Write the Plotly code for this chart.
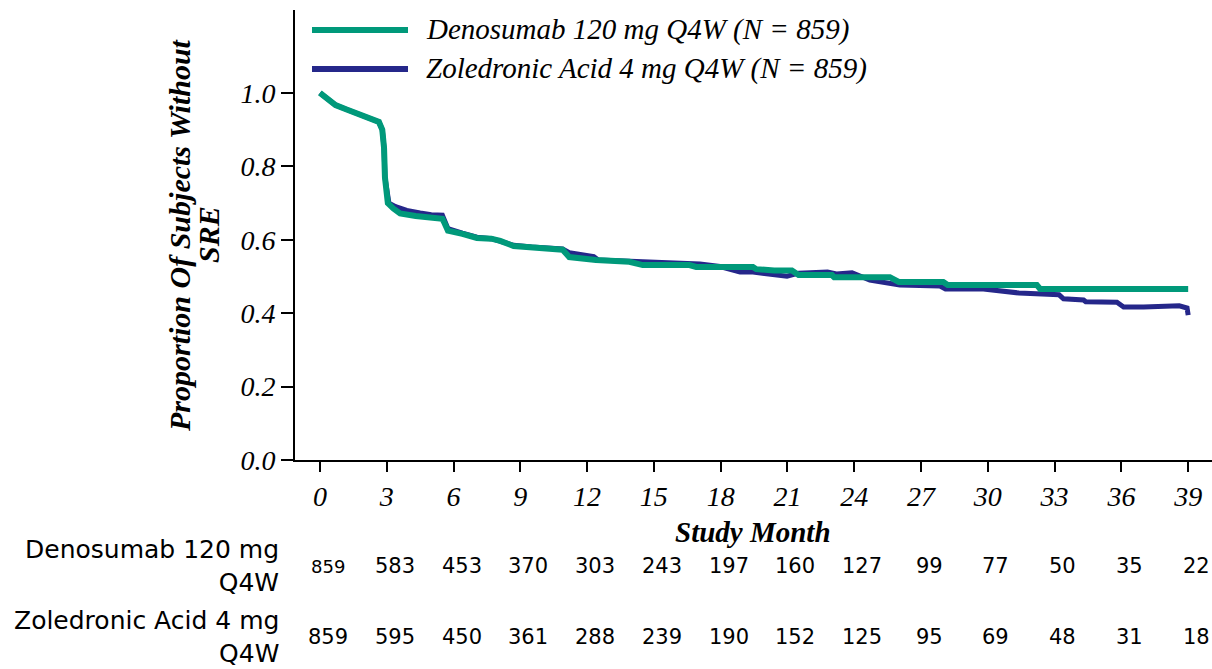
import plotly.graph_objects as go

# ---- data ----
months_deno = [0, 0.3, 0.7, 1.2, 1.8, 2.3, 2.65, 2.8, 2.88, 2.92, 3.05, 3.3, 3.6, 4.3, 4.6, 5.0, 5.5, 5.6,
               5.75, 6.4, 7.05, 7.7, 8.1, 8.7, 9.5, 10.0, 10.9, 11.2, 12.4, 13.9, 14.5, 16.6, 16.9, 19.45,
               19.6, 20.4, 21.2, 21.5, 23.0, 23.1, 25.6, 26.0, 28.0, 28.2, 32.2, 32.35, 39.0]
surv_deno = [1.0, 0.985, 0.967, 0.955, 0.94, 0.93, 0.921, 0.90, 0.85, 0.77, 0.70, 0.685, 0.672, 0.665, 0.663,
             0.657, 0.657, 0.645, 0.625, 0.616, 0.605, 0.603, 0.597, 0.583, 0.578, 0.577, 0.573, 0.553, 0.545,
             0.54, 0.531, 0.531, 0.526, 0.526, 0.52, 0.516, 0.516, 0.504, 0.504, 0.498, 0.498, 0.485, 0.485,
             0.477, 0.477, 0.466, 0.466]

months_zol = [0, 0.3, 0.7, 1.2, 1.8, 2.3, 2.65, 2.8, 2.88, 2.92, 3.1, 3.4, 3.9, 4.5, 5.0, 5.5, 5.6, 5.75, 6.4,
              7.05, 7.7, 8.1, 8.7, 9.5, 10.0, 10.9, 11.2, 12.3, 12.5, 13.9, 14.5, 16.6, 16.9, 17.07, 17.97,
              18.87, 19.45, 20.2, 20.98, 21.5, 22.8, 23.2, 23.9, 24.7, 25.4, 26.05, 27.85, 28.1, 29.8, 31.4,
              33.2, 33.4, 34.3, 34.4, 35.8, 36.1, 37.0, 38.6, 38.95, 39.0]
surv_zol = [1.0, 0.985, 0.967, 0.955, 0.94, 0.93, 0.921, 0.90, 0.85, 0.77, 0.70, 0.69, 0.68, 0.673, 0.668,
            0.667, 0.655, 0.63, 0.618, 0.607, 0.603, 0.597, 0.585, 0.58, 0.578, 0.575, 0.565, 0.554, 0.545,
            0.542, 0.54, 0.538, 0.534, 0.534, 0.527, 0.512, 0.512, 0.506, 0.501, 0.509, 0.512, 0.507, 0.51,
            0.49, 0.485, 0.477, 0.474, 0.466, 0.466, 0.455, 0.45, 0.439, 0.436, 0.431, 0.43, 0.417, 0.417,
            0.42, 0.414, 0.395]

tick_months = [0, 3, 6, 9, 12, 15, 18, 21, 24, 27, 30, 33, 36, 39]
risk_deno = [859, 583, 453, 370, 303, 243, 197, 160, 127, 99, 77, 50, 35, 22]
risk_zol = [859, 595, 450, 361, 288, 239, 190, 152, 125, 95, 69, 48, 31, 18]

name_deno = "Denosumab 120 mg Q4W (N = 859)"
name_zol = "Zoledronic Acid 4 mg Q4W (N = 859)"
row_deno = "Denosumab 120 mg<br>Q4W"
row_zol = "Zoledronic Acid 4 mg<br>Q4W"

GREEN = "#00997A"
BLUE = "#25278A"
SERIF = "Liberation Serif"
SANS = "DejaVu Sans"

W, H = 1212, 669
L, R, T, B = 295, 0, 10, 209
PW, PH = W - L - R, H - T - B


def px(x):
    return (x - L) / PW


def py(y):
    return (H - B - y) / PH


fig = go.Figure()
fig.add_trace(go.Scatter(x=months_zol, y=surv_zol, mode="lines", name=name_zol,
                         line=dict(color=BLUE, width=5), showlegend=False))
fig.add_trace(go.Scatter(x=months_deno, y=surv_deno, mode="lines", name=name_deno,
                         line=dict(color=GREEN, width=6), showlegend=False))

ann = []
# manual legend
for name, col, yy in [(name_deno, GREEN, 30), (name_zol, BLUE, 69)]:
    fig.add_shape(type="line", xref="paper", yref="paper", x0=px(312), x1=px(408), y0=py(yy), y1=py(yy),
                  line=dict(color=col, width=6))
    ann.append(dict(text=name, xref="paper", yref="paper", x=px(424), y=py(yy), xanchor="left",
                    yanchor="middle", showarrow=False,
                    font=dict(family=SERIF, size=29, color="black", style="italic")))

# y axis title (two lines)
ann.append(dict(text="Proportion Of Subjects Without", xref="paper", yref="paper", x=px(179), y=py(235),
                xanchor="center", yanchor="middle", textangle=-90, showarrow=False,
                font=dict(family=SERIF, size=30, color="black", style="italic", weight="bold")))
ann.append(dict(text="SRE", xref="paper", yref="paper", x=px(208), y=py(235),
                xanchor="center", yanchor="middle", textangle=-90, showarrow=False,
                font=dict(family=SERIF, size=30, color="black", style="italic", weight="bold")))
# x axis title
ann.append(dict(text="Study Month", xref="paper", yref="paper", x=px(753), y=py(532),
                xanchor="center", yanchor="middle", showarrow=False,
                font=dict(family=SERIF, size=29, color="black", style="italic", weight="bold")))

# risk table
for label, yy in [(row_deno, 566), (row_zol, 637)]:
    ann.append(dict(text=label, xref="paper", yref="paper", x=px(281), y=py(yy), xanchor="right",
                    yanchor="middle", align="right", showarrow=False,
                    font=dict(family=SANS, size=25, color="black")))
for vals, yy in [(risk_deno, 566), (risk_zol, 637)]:
    for i, (m, v) in enumerate(zip(tick_months, vals)):
        size = 18 if (yy == 566 and i == 0) else 21
        ann.append(dict(text=str(v), xref="x", yref="paper", x=m, y=py(yy), xanchor="center",
                        yanchor="middle", showarrow=False, xshift=8,
                        font=dict(family=SANS, size=size, color="black")))

fig.update_layout(
    width=W, height=H,
    margin=dict(l=L, r=R, t=T, b=B, pad=0),
    paper_bgcolor="white", plot_bgcolor="white",
    annotations=ann,
    xaxis=dict(range=[-1.12, 40.07], tickvals=tick_months, ticktext=[str(m) for m in tick_months],
               showgrid=False, zeroline=False, showline=True, linecolor="black", linewidth=2,
               ticks="outside", ticklen=10, tickwidth=2, tickcolor="black",
               tickfont=dict(family=SERIF, size=28, color="black", style="italic")),
    yaxis=dict(range=[0, 1.226], tickvals=[0, 0.2, 0.4, 0.6, 0.8, 1.0], tickformat=".1f",
               showgrid=False, zeroline=False, showline=True, linecolor="black", linewidth=2,
               ticks="outside", ticklen=12, tickwidth=2, tickcolor="black",
               tickfont=dict(family=SERIF, size=28, color="black", style="italic")),
)

fig.write_html("out.html")
